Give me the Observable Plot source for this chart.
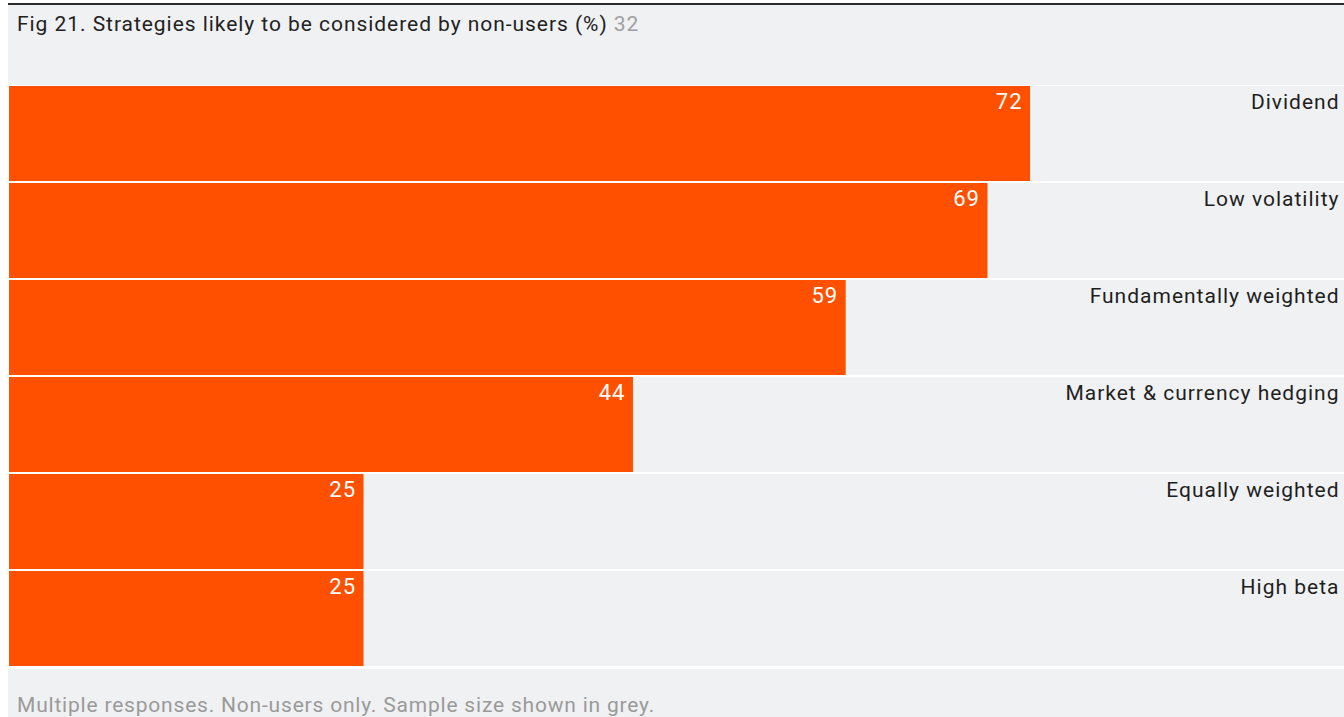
<!DOCTYPE html>
<html>
<head>
<meta charset="utf-8">
<script src="https://cdn.jsdelivr.net/npm/d3@7"></script>
<script src="https://cdn.jsdelivr.net/npm/@observablehq/plot@0.6"></script>
<style>
  html, body { margin: 0; padding: 0; background: #fff; }
  body { width: 1344px; height: 717px; overflow: hidden; position: relative; font-family: Roboto, "Open Sans", sans-serif; }
  #frame { position: absolute; left: 8px; top: 3px; width: 1336px; height: 714px; background: #f0f1f3; border-top: 2px solid #2b2b2b; }
  #title { position: absolute; left: 9px; top: 7px; font-size: 21px; letter-spacing: 0.95px; line-height: 24px; color: #222; white-space: nowrap; }
  #title .n { color: #a0a0a0; }
  #chart { position: absolute; left: 0; top: 80px; }
  #chart svg { display: block; }
  #caption { position: absolute; left: 9px; top: 688px; font-size: 21px; letter-spacing: 0.8px; line-height: 24px; color: #9a9a9a; white-space: nowrap; }
</style>
</head>
<body>
<div id="frame">
  <div id="title"></div>
  <div id="chart"></div>
  <div id="caption"></div>
</div>
<script>
const titleText = "Fig 21. Strategies likely to be considered by non-users (%)";
const sampleSize = 32;
const captionText = "Multiple responses. Non-users only. Sample size shown in grey.";
const categories = ["Dividend", "Low volatility", "Fundamentally weighted", "Market & currency hedging", "Equally weighted", "High beta"];
const values = [72, 69, 59, 44, 25, 25];
const xMax = 94.14;

const t = document.getElementById("title");
t.appendChild(document.createTextNode(titleText + " "));
const s = document.createElement("span"); s.className = "n"; s.textContent = String(sampleSize); t.appendChild(s);
document.getElementById("caption").textContent = captionText;

const data = categories.map((c, i) => ({category: c, value: values[i]}));

const chart = Plot.plot({
  width: 1336,
  height: 584,
  marginLeft: 1,
  marginRight: 0,
  marginTop: 0,
  marginBottom: 2,
  x: {domain: [0, xMax], axis: null},
  y: {domain: categories, axis: null, padding: 0},
  style: {background: "#ffffff", fontFamily: "Roboto, 'Open Sans', sans-serif"},
  marks: [
    Plot.barX(data, {x: () => xMax, y: "category", fill: "#f0f1f3", insetTop: 1, insetBottom: 1}),
    Plot.barX(data, {x: "value", y: "category", fill: "#ff5000", insetTop: 1, insetBottom: 1}),
    Plot.text(data, {x: "value", y: "category", text: d => String(d.value), textAnchor: "end", dx: -8, dy: -32, fill: "#ffffff", fontSize: 22}),
    Plot.text(data, {x: () => xMax, y: "category", text: "category", textAnchor: "end", dx: -5, dy: -32, fill: "#1e1e1e", fontSize: 21})
  ]
});
chart.querySelectorAll("text").forEach(el => el.style.letterSpacing = "1px");
document.getElementById("chart").appendChild(chart);
</script>
</body>
</html>
